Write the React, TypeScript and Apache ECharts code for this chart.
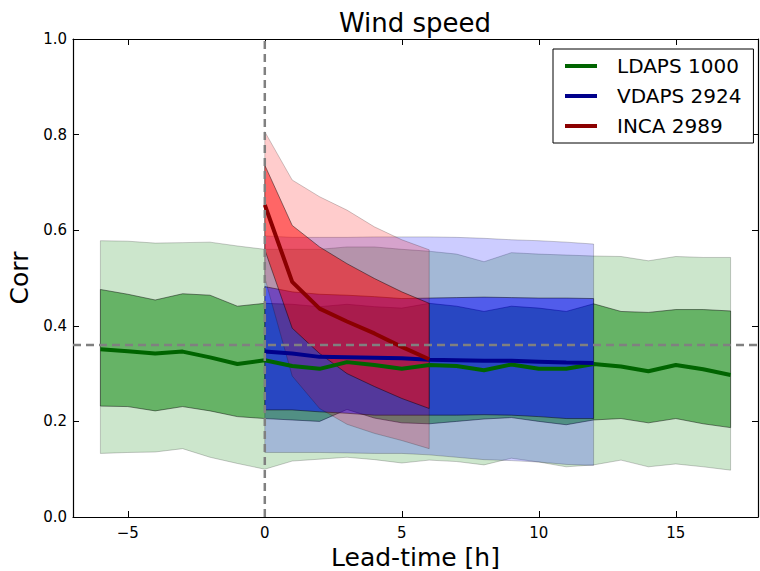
import React, { useEffect, useRef } from "react";
import * as echarts from "echarts";

// ---- Data ----
const ldapsX = [-6, -5, -4, -3, -2, -1, 0, 1, 2, 3, 4, 5, 6, 7, 8, 9, 10, 11, 12, 13, 14, 15, 16, 17];
const ldapsMean = [0.351, 0.347, 0.342, 0.346, 0.334, 0.32, 0.328, 0.316, 0.31, 0.324, 0.318, 0.31, 0.318, 0.316, 0.307, 0.319, 0.31, 0.31, 0.32, 0.315, 0.305, 0.318, 0.309, 0.297];
const ldapsInnerUp = [0.476, 0.466, 0.454, 0.467, 0.464, 0.441, 0.447, 0.445, 0.44, 0.445, 0.44, 0.437, 0.447, 0.441, 0.43, 0.441, 0.437, 0.43, 0.446, 0.43, 0.428, 0.434, 0.434, 0.431];
const ldapsInnerLo = [0.232, 0.231, 0.222, 0.231, 0.222, 0.21, 0.206, 0.203, 0.2, 0.225, 0.207, 0.197, 0.195, 0.2, 0.205, 0.208, 0.2, 0.193, 0.203, 0.206, 0.197, 0.206, 0.195, 0.187];
const ldapsOuterUp = [0.578, 0.577, 0.573, 0.574, 0.575, 0.567, 0.56, 0.56, 0.56, 0.565, 0.565, 0.56, 0.556, 0.55, 0.534, 0.553, 0.55, 0.548, 0.546, 0.545, 0.536, 0.545, 0.543, 0.543];
const ldapsOuterLo = [0.133, 0.135, 0.136, 0.143, 0.125, 0.112, 0.1, 0.117, 0.121, 0.125, 0.12, 0.113, 0.119, 0.116, 0.109, 0.123, 0.115, 0.105, 0.109, 0.119, 0.105, 0.111, 0.105, 0.098];

const vdapsX = [0, 1, 2, 3, 4, 5, 6, 7, 8, 9, 10, 11, 12];
const vdapsMean = [0.346, 0.342, 0.335, 0.334, 0.333, 0.332, 0.329, 0.328, 0.327, 0.327, 0.325, 0.323, 0.322];
const vdapsInnerUp = [0.482, 0.471, 0.466, 0.464, 0.461, 0.457, 0.458, 0.459, 0.46, 0.459, 0.458, 0.458, 0.457];
const vdapsInnerLo = [0.224, 0.224, 0.22, 0.217, 0.213, 0.213, 0.213, 0.213, 0.214, 0.213, 0.21, 0.206, 0.206];
const vdapsOuterUp = [0.588, 0.585, 0.585, 0.585, 0.586, 0.586, 0.586, 0.585, 0.583, 0.58, 0.578, 0.575, 0.571];
const vdapsOuterLo = [0.135, 0.135, 0.135, 0.134, 0.133, 0.133, 0.13, 0.125, 0.12, 0.118, 0.115, 0.11, 0.108];

const incaX = [0, 1, 2, 3, 4, 5, 6];
const incaMean = [0.653, 0.492, 0.436, 0.409, 0.384, 0.356, 0.33];
const incaInnerUp = [0.736, 0.61, 0.565, 0.53, 0.499, 0.471, 0.447];
const incaInnerLo = [0.559, 0.395, 0.342, 0.3, 0.273, 0.248, 0.227];
const incaOuterUp = [0.806, 0.705, 0.67, 0.642, 0.607, 0.58, 0.559];
const incaOuterLo = [0.5, 0.295, 0.227, 0.194, 0.175, 0.16, 0.143];

const seriesNames = ["LDAPS 1000", "VDAPS 2924", "INCA 2989"];
const xTicks = [-5, 0, 5, 10, 15];
const refX = 0;
const refY = 0.36;

const FONT = "DejaVu Sans";

function band(xs: number[], lo: number[], hi: number[], fill: string, stroke: string) {
  return {
    type: "custom",
    coordinateSystem: "cartesian2d",
    silent: true,
    z: 1,
    data: xs.map((x, i) => [x, lo[i], hi[i]]),
    encode: { x: 0, y: [1, 2] },
    renderItem: (params: any, api: any) => {
      if (params.dataIndex !== 0) return null;
      const pts: number[][] = [];
      for (let i = 0; i < xs.length; i++) pts.push(api.coord([xs[i], hi[i]]));
      for (let i = xs.length - 1; i >= 0; i--) pts.push(api.coord([xs[i], lo[i]]));
      return {
        type: "polygon",
        shape: { points: pts },
        style: { fill, stroke, lineWidth: 1 },
      };
    },
  };
}

function meanLine(name: string, xs: number[], ys: number[], color: string) {
  return {
    type: "line",
    name,
    data: xs.map((x, i) => [x, ys[i]]),
    symbol: "none",
    showSymbol: false,
    z: 3,
    lineStyle: { width: 4, color },
    itemStyle: { color },
  };
}

export default function App() {
  const ref = useRef<HTMLDivElement>(null);
  useEffect(() => {
    if (!ref.current) return;
    const chart = echarts.init(ref.current, undefined, { renderer: "svg" });
    const fmtX = (v: number) => (v < 0 ? "\u2212" + Math.abs(v) : String(v));
    const option: any = {
      animation: false,
      backgroundColor: "#fff",
      textStyle: { fontFamily: FONT },
      title: {
        text: "Wind speed",
        left: 415,
        top: 10,
        padding: 0,
        textAlign: "center",
        textStyle: { fontFamily: FONT, fontSize: 26, fontWeight: "normal", color: "#000" },
      },
      grid: { left: 73, right: 2, top: 39, bottom: 54, containLabel: false, outerBoundsMode: "none" },
      legend: {
        data: seriesNames,
        orient: "vertical",
        left: 553,
        top: 49,
        padding: [7, 12, 7, 12],
        itemGap: 10,
        itemWidth: 32,
        itemHeight: 4,
        icon: "rect",
        borderColor: "#000",
        borderWidth: 1,
        backgroundColor: "#fff",
        textStyle: { fontFamily: FONT, fontSize: 20, color: "#000", padding: [0, 0, 0, 15] },
      },
      xAxis: [
        {
          type: "value",
          min: -7,
          max: 18,
          position: "bottom",
          name: "Lead-time [h]",
          nameLocation: "middle",
          nameGap: 27,
          nameTextStyle: { fontFamily: FONT, fontSize: 25, color: "#000" },
          axisLine: { show: true, onZero: false, lineStyle: { color: "#000", width: 1.2 } },
          axisTick: { show: true, inside: true, length: 6, customValues: xTicks, lineStyle: { color: "#000" } },
          axisLabel: { show: true, customValues: xTicks, formatter: fmtX, margin: 8, fontFamily: FONT, fontSize: 15, color: "#000" },
          splitLine: { show: false },
        },
        {
          type: "value",
          min: -7,
          max: 18,
          position: "top",
          axisLine: { show: true, onZero: false, lineStyle: { color: "#000", width: 1.2 } },
          axisTick: { show: true, inside: true, length: 6, customValues: xTicks, lineStyle: { color: "#000" } },
          axisLabel: { show: false },
          splitLine: { show: false },
        },
      ],
      yAxis: [
        {
          type: "value",
          min: 0,
          max: 1,
          interval: 0.2,
          position: "left",
          name: "Corr",
          nameLocation: "middle",
          nameGap: 38,
          nameTextStyle: { fontFamily: FONT, fontSize: 25, color: "#000" },
          axisLine: { show: true, onZero: false, lineStyle: { color: "#000", width: 1.2 } },
          axisTick: { show: true, inside: true, length: 6, lineStyle: { color: "#000" } },
          axisLabel: { formatter: (v: number) => v.toFixed(1), margin: 6, fontFamily: FONT, fontSize: 15, color: "#000" },
          splitLine: { show: false },
        },
        {
          type: "value",
          min: 0,
          max: 1,
          interval: 0.2,
          position: "right",
          axisLine: { show: true, onZero: false, lineStyle: { color: "#000", width: 1.2 } },
          axisTick: { show: true, inside: true, length: 6, lineStyle: { color: "#000" } },
          axisLabel: { show: false },
          splitLine: { show: false },
        },
      ],
      series: [
        band(ldapsX, ldapsOuterLo, ldapsOuterUp, "rgba(0,128,0,0.2)", "rgba(0,0,0,0.2)"),
        band(ldapsX, ldapsInnerLo, ldapsInnerUp, "rgba(0,128,0,0.5)", "rgba(0,0,0,0.45)"),
        band(vdapsX, vdapsOuterLo, vdapsOuterUp, "rgba(0,0,255,0.2)", "rgba(0,0,0,0.2)"),
        band(vdapsX, vdapsInnerLo, vdapsInnerUp, "rgba(0,0,255,0.5)", "rgba(0,0,0,0.45)"),
        band(incaX, incaOuterLo, incaOuterUp, "rgba(255,0,0,0.2)", "rgba(0,0,0,0.2)"),
        band(incaX, incaInnerLo, incaInnerUp, "rgba(255,0,0,0.5)", "rgba(0,0,0,0.45)"),
        meanLine(seriesNames[0], ldapsX, ldapsMean, "#006400"),
        meanLine(seriesNames[1], vdapsX, vdapsMean, "#00008b"),
        meanLine(seriesNames[2], incaX, incaMean, "#8b0000"),
        {
          type: "line",
          data: [[refX, 0], [refX, 1]],
          symbol: "none",
          silent: true,
          z: 4,
          lineStyle: { color: "#808080", width: 2.5, type: [8, 5] },
        },
        {
          type: "line",
          data: [[-7, refY], [18, refY]],
          symbol: "none",
          silent: true,
          z: 4,
          lineStyle: { color: "#808080", width: 2.5, type: [8, 5] },
        },
      ],
    };
    chart.setOption(option);
    return () => chart.dispose();
  }, []);
  return <div ref={ref} style={{ position: "fixed", left: 0, top: 0, width: 760, height: 571 }} />;
}
